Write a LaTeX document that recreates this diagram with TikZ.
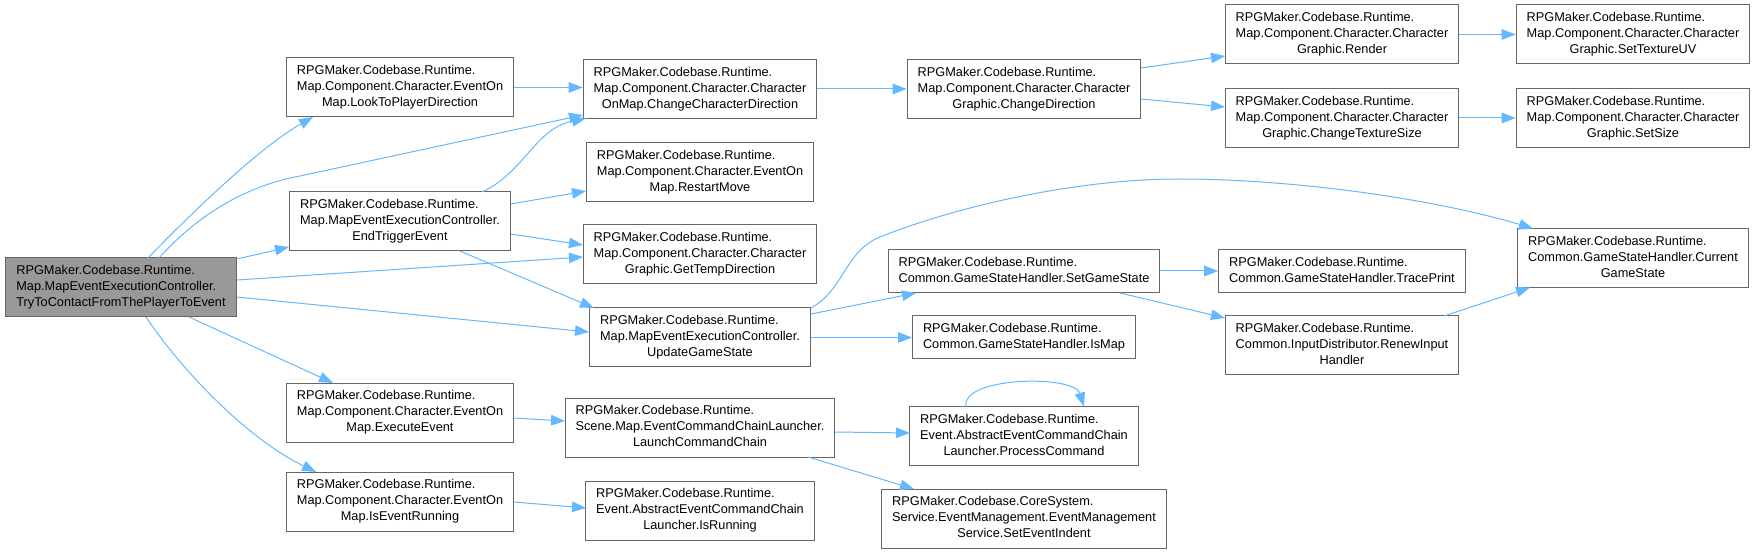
\documentclass[tikz,border=0pt]{standalone}
\usepackage{fontspec}
\setmainfont{Liberation Sans}
\usetikzlibrary{arrows.meta,calc}
\definecolor{edgec}{HTML}{63B8FF}
\definecolor{bordc}{HTML}{666666}
\definecolor{mainc}{HTML}{999999}
\newcommand{\nt}[2]{\begin{tabular}{@{}l@{}}#1\\\multicolumn{1}{@{}c@{}}{#2}\end{tabular}}
\begin{document}
\begin{tikzpicture}[x=1pt,y=-1pt,
  fn/.style={draw=bordc, line width=1pt, fill=white, inner xsep=10.5pt, inner ysep=5.5pt, font=\fontsize{12.75}{16}\selectfont},
  mainfn/.style={fn, fill=mainc},
  edge/.style={draw=edgec, line width=1pt, -{Triangle[length=14pt,width=10.5pt]}}]
\useasboundingbox (0,0) rectangle (1757,553);
% column 1
\node[mainfn] (main) at (121,287.5) {\nt{RPGMaker.Codebase.Runtime.\\Map.MapEventExecutionController.}{TryToContactFromThePlayerToEvent}};
% column 2
\node[fn] (look) at (400,87.5) {\nt{RPGMaker.Codebase.Runtime.\\Map.Component.Character.EventOn}{Map.LookToPlayerDirection}};
\node[fn] (endtrig) at (400,221.5) {\nt{RPGMaker.Codebase.Runtime.\\Map.MapEventExecutionController.}{EndTriggerEvent}};
\node[fn] (exec) at (400,412.5) {\nt{RPGMaker.Codebase.Runtime.\\Map.Component.Character.EventOn}{Map.ExecuteEvent}};
\node[fn] (evrun) at (400,501.5) {\nt{RPGMaker.Codebase.Runtime.\\Map.Component.Character.EventOn}{Map.IsEventRunning}};
% column 3
\node[fn] (ccd) at (700,89) {\nt{RPGMaker.Codebase.Runtime.\\Map.Component.Character.Character}{OnMap.ChangeCharacterDirection}};
\node[fn] (restart) at (700,172) {\nt{RPGMaker.Codebase.Runtime.\\Map.Component.Character.EventOn}{Map.RestartMove}};
\node[fn] (temp) at (700,254.5) {\nt{RPGMaker.Codebase.Runtime.\\Map.Component.Character.Character}{Graphic.GetTempDirection}};
\node[fn] (upd) at (700,337.5) {\nt{RPGMaker.Codebase.Runtime.\\Map.MapEventExecutionController.}{UpdateGameState}};
\node[fn] (lcc) at (700,427.5) {\nt{RPGMaker.Codebase.Runtime.\\Scene.Map.EventCommandChainLauncher.}{LaunchCommandChain}};
\node[fn] (isrun) at (700,510.5) {\nt{RPGMaker.Codebase.Runtime.\\Event.AbstractEventCommandChain}{Launcher.IsRunning}};
% column 4
\node[fn] (cgcd) at (1024,89) {\nt{RPGMaker.Codebase.Runtime.\\Map.Component.Character.Character}{Graphic.ChangeDirection}};
\node[fn] (setgs) at (1024,271) {\nt{RPGMaker.Codebase.Runtime.}{Common.GameStateHandler.SetGameState}};
\node[fn] (ismap) at (1024,337.5) {\nt{RPGMaker.Codebase.Runtime.}{Common.GameStateHandler.IsMap}};
\node[fn] (proc) at (1024,436) {\nt{RPGMaker.Codebase.Runtime.\\Event.AbstractEventCommandChain}{Launcher.ProcessCommand}};
\node[fn] (indent) at (1024,518.5) {\nt{RPGMaker.Codebase.CoreSystem.\\Service.EventManagement.EventManagement}{Service.SetEventIndent}};
% column 5
\node[fn] (render) at (1342,34.5) {\nt{RPGMaker.Codebase.Runtime.\\Map.Component.Character.Character}{Graphic.Render}};
\node[fn] (cts) at (1342,118) {\nt{RPGMaker.Codebase.Runtime.\\Map.Component.Character.Character}{Graphic.ChangeTextureSize}};
\node[fn] (trace) at (1342,271) {\nt{RPGMaker.Codebase.Runtime.}{Common.GameStateHandler.TracePrint}};
\node[fn] (renew) at (1342,345.5) {\nt{RPGMaker.Codebase.Runtime.\\Common.InputDistributor.RenewInput}{Handler}};
% column 6
\node[fn] (uv) at (1633,34.5) {\nt{RPGMaker.Codebase.Runtime.\\Map.Component.Character.Character}{Graphic.SetTextureUV}};
\node[fn] (size) at (1633,118) {\nt{RPGMaker.Codebase.Runtime.\\Map.Component.Character.Character}{Graphic.SetSize}};
\node[fn] (cur) at (1633,258) {\nt{RPGMaker.Codebase.Runtime.\\Common.GameStateHandler.Current}{GameState}};
% edges from main
\draw[edge] ($(main)+(27,-29.5)$) .. controls +(32,-33) and +(-58,33) .. ($(look)+(-87,29.5)$);
\draw[edge] ($(main)+(38,-29.5)$) .. controls +(41,-46) and +(-50,9) .. ($(main)+(179,-111.5)$) -- ($(ccd)+(-117,26)$);
\draw[edge] ($(main)+(116,-28.5)$) -- ($(endtrig)+(-111,25.5)$);
\draw[edge] ($(main)+(116,-7.5)$) -- ($(temp)+(-117,2.5)$);
\draw[edge] ($(main)+(116,9.5)$) -- ($(upd)+(-111,-5.5)$);
\draw[edge] ($(main)+(68,29.5)$) -- ($(exec)+(-67,-29.5)$);
\draw[edge] ($(main)+(25,29.5)$) .. controls +(39,58) and +(-66,-32) .. ($(evrun)+(-84,-29.5)$);
% column 2 edges
\draw[edge] (look.east) -- (look.east -| ccd.west);
\draw[edge] ($(endtrig)+(82,-29.5)$) .. controls +(43,-20) and +(-51,10) .. ($(ccd)+(-114,29.5)$);
\draw[edge] ($(endtrig)+(111,-17.5)$) -- ($(restart)+(-114,19)$);
\draw[edge] ($(endtrig)+(111,12.5)$) -- ($(temp)+(-117,-9.5)$);
\draw[edge] ($(endtrig)+(60,29.5)$) -- ($(upd)+(-106,-29.5)$);
\draw[edge] ($(exec)+(114,5.5)$) -- ($(lcc)+(-135,-6.5)$);
\draw[edge] ($(evrun)+(114,0.5)$) -- ($(isrun)+(-114,-2.5)$);
% column 3 edges
\draw[edge] (ccd.east) -- (cgcd.west);
\draw[edge] ($(upd)+(111,-29.5)$) .. controls +(33,-18) and +(-35,14) .. ($(upd)+(180,-100.5)$) .. controls +(80,-32) and +(-98,0) .. ($(upd)+(478,-158.5)$) .. controls +(122,0) and +(-93,-28) .. ($(cur)+(-100,-29.5)$);
\draw[edge] ($(upd)+(111,-23.5)$) -- ($(setgs)+(-108,22)$);
\draw[edge] (upd.east) -- (ismap.west);
\draw[edge] ($(lcc)+(135,4.5)$) -- ($(proc)+(-114,-3)$);
\draw[edge] ($(lcc)+(108,29.5)$) -- ($(indent)+(-110,-29.5)$);
% column 4 edges
\draw[edge] ($(cgcd)+(117,-21)$) -- ($(render)+(-117,21.5)$);
\draw[edge] ($(cgcd)+(117,10)$) -- ($(cts)+(-117,-11)$);
\draw[edge] (setgs.east) -- (trace.west);
\draw[edge] ($(setgs)+(96,22)$) -- ($(renew)+(-117,-27.5)$);
\draw[edge] ($(proc)+(-58,-29.5)$) .. controls +(-5,-30) and +(-10,-32) .. ($(proc)+(60,-29.5)$);
% column 5 edges
\draw[edge] (render.east) -- (uv.west);
\draw[edge] (cts.east) -- (size.west);
\draw[edge] ($(renew)+(102,-29.5)$) -- ($(cur)+(-103,29.5)$);
\end{tikzpicture}
\end{document}
